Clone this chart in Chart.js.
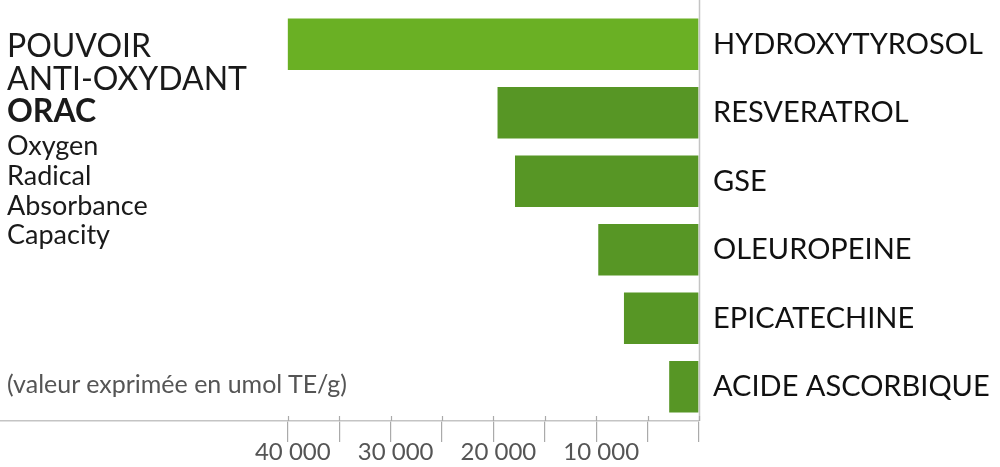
<!DOCTYPE html>
<html>
<head>
<meta charset="utf-8">
<script src="https://cdn.jsdelivr.net/npm/chart.js@4/dist/chart.umd.min.js"></script>
<style>
  body { margin: 0; background: #fff; }
  #wrap { position: relative; width: 1000px; height: 467px; }
  .t { position: absolute; left: 7px; font-family: Lato, sans-serif; color: #1a1a1a; white-space: nowrap; }
  .big { font-size: 32px; line-height: 32px; }
  .small { font-size: 27px; line-height: 30px; }
  .note { font-size: 25px; line-height: 26px; color: #555; }
</style>
</head>
<body>
<div id="wrap">
  <canvas id="orac-chart"></canvas>
  <div class="t big" style="top:29px">POUVOIR</div>
  <div class="t big" style="top:62px">ANTI-OXYDANT</div>
  <div class="t big" style="top:94px;font-weight:bold">ORAC</div>
  <div class="t small" style="top:130px">Oxygen</div>
  <div class="t small" style="top:160px">Radical</div>
  <div class="t small" style="top:190px">Absorbance</div>
  <div class="t small" style="top:219px">Capacity</div>
  <div class="t note" style="top:370px">(valeur exprimée en umol TE/g)</div>
</div>
<script>
const molecules = ['HYDROXYTYROSOL', 'RESVERATROL', 'GSE', 'OLEUROPEINE', 'EPICATECHINE', 'ACIDE ASCORBIQUE'];
const oracValues = [40000, 19600, 17900, 9800, 7300, 2900];
const tickValues = [0, 5000, 10000, 15000, 20000, 25000, 30000, 35000, 40000];
const labelledTicks = [10000, 20000, 30000, 40000];

function getColor(i){
    if(i === 0){
        return '#6ab024'
    }
    return '#579625'
}

// right hand line goes up to the top, tick marks poke a bit above the axis
const axisLine = {
    id: 'axisLine',
    afterDraw(chart) {
        const ctx = chart.ctx;
        const area = chart.chartArea;
        const x = chart.scales.x;
        ctx.save();
        ctx.strokeStyle = '#c4c4c4';
        ctx.lineWidth = 1.5;
        ctx.beginPath();
        ctx.moveTo(area.right + 0.5, 0);
        ctx.lineTo(area.right + 0.5, area.bottom);
        ctx.stroke();
        ctx.strokeStyle = '#aaaaaa';
        ctx.lineWidth = 1.2;
        tickValues.forEach(v => {
            const px = Math.round(x.getPixelForValue(v)) + 0.5;
            ctx.beginPath();
            ctx.moveTo(px, area.bottom - 5);
            ctx.lineTo(px, area.bottom);
            ctx.stroke();
        });
        ctx.restore();
    }
};

new Chart(document.querySelector('#orac-chart').getContext('2d'), {
    type: 'bar',
    data: {
        labels: molecules,
        datasets: [{
            data: oracValues,
            backgroundColor: oracValues.map((v, i) => getColor(i)),
            borderWidth: 0,
            barPercentage: 0.75,
            categoryPercentage: 1
        }]
    },
    options: {
        indexAxis: 'y',
        responsive: true,
        maintainAspectRatio: false,
        animation: false,
        layout: { padding: { top: 10, left: 0, right: 0, bottom: 0 } },
        plugins: { legend: { display: false }, tooltip: { enabled: false } },
        scales: {
            x: {
                reverse: true,
                min: 0,
                max: 68000,
                afterBuildTicks: axis => {
                    axis.ticks = tickValues.map(v => ({ value: v }));
                },
                afterFit: axis => { axis.height = 46; },
                grid: {
                    drawOnChartArea: false,
                    drawTicks: true,
                    tickLength: 21,
                    color: '#aaaaaa',
                    lineWidth: 1.2
                },
                border: { display: true, color: '#c4c4c4', width: 1.5 },
                ticks: {
                    autoSkip: false,
                    maxRotation: 0,
                    padding: -4,
                    labelOffset: 5,
                    color: '#555',
                    font: { family: 'Lato', size: 24 },
                    callback: v => labelledTicks.includes(v) ? (v / 1000) + ' 000' : ''
                }
            },
            y: {
                position: 'right',
                afterFit: axis => {
                    axis.width = 301;
                    axis.paddingTop = 0;
                    axis.paddingBottom = 0;
                },
                grid: { display: false, drawTicks: false },
                border: { display: false },
                ticks: {
                    padding: 14,
                    color: '#111',
                    font: { family: 'Lato', size: 29 }
                }
            }
        }
    },
    plugins: [axisLine]
});
</script>
</body>
</html>
